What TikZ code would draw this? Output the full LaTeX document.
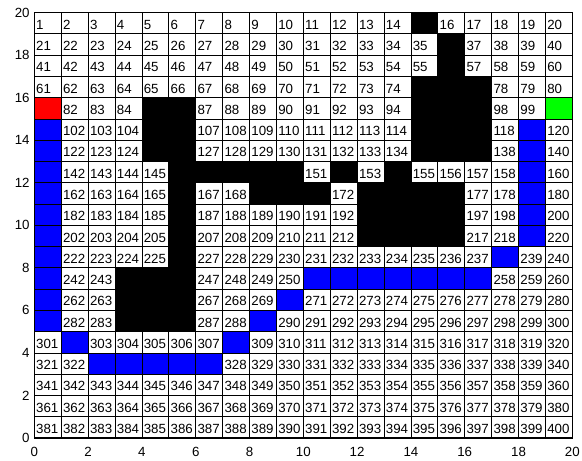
\documentclass[tikz,border=0pt]{standalone}
\usepackage{fontspec}
\setmainfont{Liberation Sans}
\definecolor{pathblue}{RGB}{0,0,255}
\definecolor{startred}{RGB}{255,0,0}
\definecolor{goalgreen}{RGB}{0,255,0}
\tikzset{
  cellnum/.style={anchor=base west, inner sep=0pt, font=\fontsize{13.3}{13.3}\selectfont},
  ticklab/.style={inner sep=0pt, font=\fontsize{13.3}{13.3}\selectfont},
  gridline/.style={draw=black, line width=0.8pt},
  frameline/.style={draw=black, line width=1.3pt}
}
\newcommand{\fillcells}[2]{%
  \foreach \n in {#2} {%
    \pgfmathtruncatemacro\rr{(\n-1)/20}%
    \pgfmathtruncatemacro\cc{\n-1-20*\rr}%
    \pgfmathtruncatemacro\yy{19-\rr}%
    \fill[#1] (\cc,\yy) rectangle ++(1,1);
  }%
}
\begin{document}
\begin{tikzpicture}[x=1pt,y=1pt]
\useasboundingbox (0,0) rectangle (582,461);
\fill[white] (0,0) rectangle (582,461);
\begin{scope}[shift={(34.3,23)}, x=26.9pt, y=21.27pt]
  % cell numbers
  \foreach \n in {1,...,400} {
    \pgfmathtruncatemacro\rr{(\n-1)/20}
    \pgfmathtruncatemacro\cc{\n-1-20*\rr}
    \pgfmathtruncatemacro\yy{19-\rr}
    \node[cellnum] (c\n) at ([xshift=1.7pt,yshift=4.5pt]\cc,\yy) {\n};
  }
  % obstacles
  \fillcells{black}{15,36,56,75,76,77,85,86,95,96,97,105,106,115,116,117,125,126,135,136,137,146,147,148,149,150,152,154,166,169,170,171,173,174,175,176,186,193,194,195,196,206,213,214,215,216,226,244,245,246,264,265,266,284,285,286}
  % path
  \fillcells{pathblue}{101,121,141,161,181,201,221,241,261,281,302,323,324,325,326,327,308,289,270,251,252,253,254,255,256,257,238,219,199,179,159,139,119}
  % start and goal
  \fillcells{startred}{81}
  \fillcells{goalgreen}{100}
  % grid
  \draw[gridline, step=1] (0,0) grid (20,20);
  \draw[frameline] (0,0) rectangle (20,20);
  % axis labels
  \foreach \v in {0,2,...,20} {
    \node[ticklab, anchor=east] (yl\v) at ([xshift=-4.5pt]0,\v) {\v};
    \node[ticklab, anchor=north] (xl\v) at ([yshift=-9pt]\v,0) {\v};
  }
\end{scope}
\end{tikzpicture}
\end{document}
